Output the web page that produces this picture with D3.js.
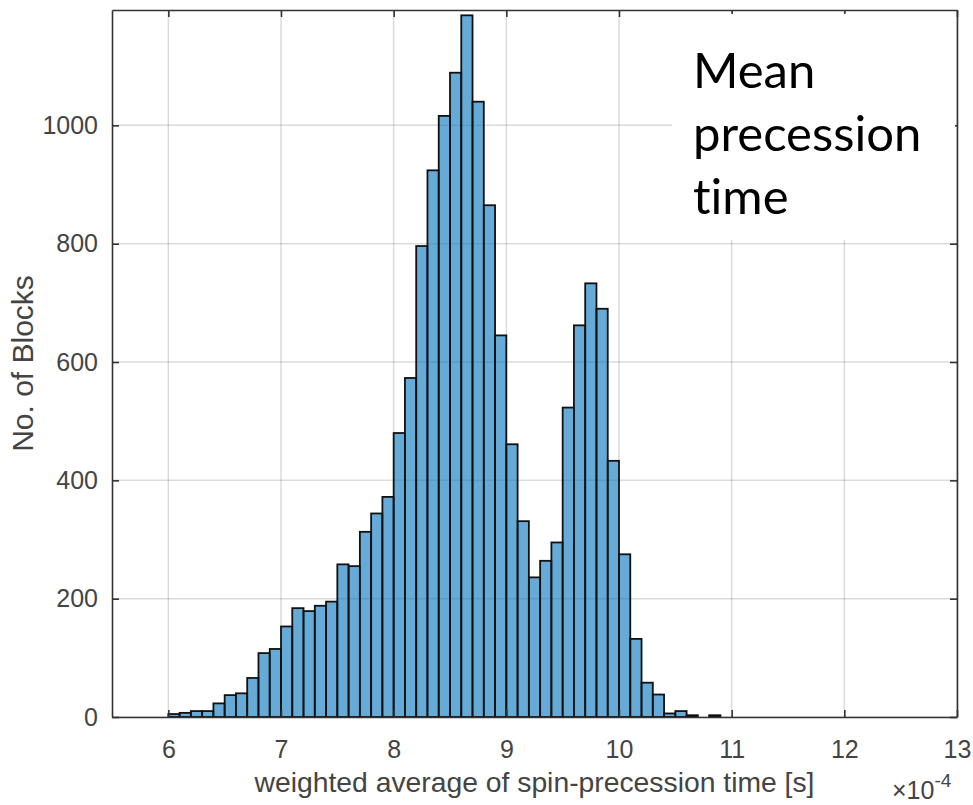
<!DOCTYPE html>
<html>
<head>
<meta charset="utf-8">
<script src="https://cdn.jsdelivr.net/npm/d3@7"></script>
<style>
  body { margin: 0; background: #fff; }
  text { font-family: "Liberation Sans", Arial, Helvetica, sans-serif; }
</style>
</head>
<body>
<div id="chart"></div>
<script>
// histogram bins (lower edge, in units of 1e-4 s) and counts
const binStart = [6.0, 6.1, 6.2, 6.3, 6.4, 6.5, 6.6, 6.7, 6.8, 6.9,
                  7.0, 7.1, 7.2, 7.3, 7.4, 7.5, 7.6, 7.7, 7.8, 7.9,
                  8.0, 8.1, 8.2, 8.3, 8.4, 8.5, 8.6, 8.7, 8.8, 8.9,
                  9.0, 9.1, 9.2, 9.3, 9.4, 9.5, 9.6, 9.7, 9.8, 9.9,
                  10.0, 10.1, 10.2, 10.3, 10.4, 10.5, 10.6, 10.7, 10.8]
const binWidth = 0.1
const counts = [5, 7, 10, 10, 23, 37, 40, 66, 108, 115,
                153, 184, 179, 188, 195, 258, 255, 313, 344, 372,
                480, 573, 796, 924, 1016, 1089, 1186, 1040, 865, 645,
                461, 331, 236, 264, 295, 523, 662, 733, 690, 433,
                275, 132, 58, 38, 6, 10, 3, 0, 3]
const xTicks = [6, 7, 8, 9, 10, 11, 12, 13]
const yTicks = [0, 200, 400, 600, 800, 1000]
const noteLines = ['Mean', 'precession', 'time']

const W = 973, H = 805
const box = { left: 112, right: 957, top: 10, bottom: 717 }
const axisColor = '#333'

const svg = d3.select('#chart').append('svg')
  .attr('width', W)
  .attr('height', H)

const x = d3.scaleLinear().domain([5.5, 13]).range([box.left, box.right])
const y = d3.scaleLinear().domain([0, 1195]).range([box.bottom, box.top])

// grid lines (under the bars, bars are see-through like matlab FaceAlpha)
const grid = svg.append('g').attr('stroke', '#000').attr('stroke-opacity', 0.14).attr('stroke-width', 1.5)
grid.selectAll('.gx').data(xTicks).join('line')
  .attr('x1', d => x(d)).attr('x2', d => x(d))
  .attr('y1', box.top).attr('y2', box.bottom)
grid.selectAll('.gy').data(yTicks).join('line')
  .attr('x1', box.left).attr('x2', box.right)
  .attr('y1', d => y(d)).attr('y2', d => y(d))

// bars
svg.append('g').selectAll('rect')
  .data(binStart.map((s, i) => ({ s, v: counts[i] })))
  .join('rect')
  .attr('x', d => x(d.s))
  .attr('width', d => x(d.s + binWidth) - x(d.s))
  .attr('y', d => y(d.v))
  .attr('height', d => y(0) - y(d.v))
  .attr('fill', '#0072BD')
  .attr('fill-opacity', 0.6)
  .attr('stroke', '#111')
  .attr('stroke-width', 1.8)

// axes, ticks pointing inward on all four sides
function styleAxis(g) {
  g.select('.domain').attr('stroke', axisColor).attr('stroke-width', 1.6)
  g.selectAll('.tick line').attr('stroke', axisColor).attr('stroke-width', 1.6)
  g.selectAll('.tick text').attr('fill', '#444').style('font-size', '25px')
}

svg.append('g')
  .attr('transform', `translate(0,${box.bottom})`)
  .call(d3.axisBottom(x).tickValues(xTicks).tickSizeInner(-7).tickSizeOuter(0).tickPadding(23))
  .call(styleAxis)

svg.append('g')
  .attr('transform', `translate(0,${box.top})`)
  .call(d3.axisTop(x).tickValues(xTicks).tickSizeInner(-7).tickSizeOuter(0).tickFormat(''))
  .call(styleAxis)

svg.append('g')
  .attr('transform', `translate(${box.left},0)`)
  .call(d3.axisLeft(y).tickValues(yTicks).tickFormat(d3.format('d'))
    .tickSizeInner(-7).tickSizeOuter(0).tickPadding(14))
  .call(styleAxis)

svg.append('g')
  .attr('transform', `translate(${box.right},0)`)
  .call(d3.axisRight(y).tickValues(yTicks).tickSizeInner(-7).tickSizeOuter(0).tickFormat(''))
  .call(styleAxis)

// axis labels
svg.append('text')
  .attr('x', (box.left + box.right) / 2)
  .attr('y', 792)
  .attr('text-anchor', 'middle')
  .attr('fill', '#444')
  .style('font-size', '28.3px')
  .text('weighted average of spin-precession time [s]')

svg.append('text')
  .attr('transform', `translate(33,${(box.top + box.bottom) / 2}) rotate(-90)`)
  .attr('text-anchor', 'middle')
  .attr('fill', '#444')
  .style('font-size', '30px')
  .text('No. of Blocks')

const expo = svg.append('text')
  .attr('x', 892)
  .attr('y', 799)
  .attr('fill', '#444')
  .style('font-size', '25px')
expo.append('tspan').text('\u00d710')
expo.append('tspan').attr('dy', -12).style('font-size', '19px').text('-4')

// pasted annotation box
svg.append('rect')
  .attr('x', 672).attr('y', 14)
  .attr('width', 283).attr('height', 226)
  .attr('fill', '#fff')

svg.append('g').selectAll('text')
  .data(noteLines)
  .join('text')
  .attr('x', 693)
  .attr('y', (d, i) => 88 + i * 63)
  .attr('fill', '#000')
  .style('font-family', 'Lato, "Open Sans", sans-serif')
  .style('font-variant-ligatures', 'none')
  .style('font-size', '49px')
  .text(d => d)
</script>
</body>
</html>
